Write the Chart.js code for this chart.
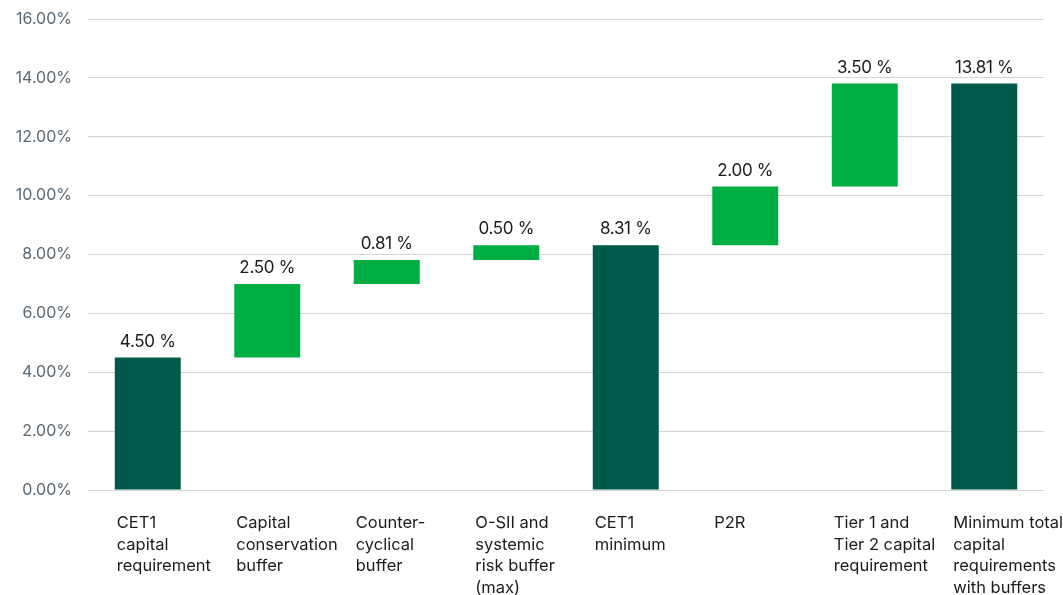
<!DOCTYPE html>
<html>
<head>
<meta charset="utf-8">
<script src="https://cdn.jsdelivr.net/npm/chart.js@4"></script>
<style>
  html, body { margin: 0; padding: 0; background: #fff; }
  #wrap { width: 1063px; height: 595px; }
</style>
</head>
<body>
<div id="wrap"><canvas id="capChart"></canvas></div>
<script>
// categories, one array of lines each
const categories = [
    ['CET1', 'capital', 'requirement'],
    ['Capital', 'conservation', 'buffer'],
    ['Counter-', 'cyclical', 'buffer'],
    ['O-SII and', 'systemic', 'risk buffer', '(max)'],
    ['CET1', 'minimum'],
    ['P2R'],
    ['Tier 1 and', 'Tier 2 capital', 'requirement'],
    ['Minimum total', 'capital', 'requirements', 'with buffers']
];
// bar start / end (percent)
const barStart = [0, 4.50, 7.00, 7.81, 0, 8.31, 10.31, 0];
const barEnd = [4.50, 7.00, 7.81, 8.31, 8.31, 10.31, 13.81, 13.81];
const valueLabels = ['4.50 %', '2.50 %', '0.81 %', '0.50 %', '8.31 %', '2.00 %', '3.50 %', '13.81 %'];
const isTotal = [true, false, false, false, true, false, false, true];

const DARK = '#005a4c';
const GREEN = '#00ad42';
const FONT = 'Inter, "Liberation Sans", sans-serif';

// value labels above bars + multi-line category labels under bars
const labelsPlugin = {
    id: 'labelsPlugin',
    afterDatasetsDraw(chart) {
        const ctx = chart.ctx;
        const meta = chart.getDatasetMeta(0);
        const yScale = chart.scales.y;
        ctx.save();
        ctx.font = '17px ' + FONT;
        ctx.letterSpacing = '-0.3px';
        ctx.fillStyle = '#1b1b1b';
        ctx.textAlign = 'center';
        ctx.textBaseline = 'middle';
        meta.data.forEach((bar, i) => {
            const top = yScale.getPixelForValue(barEnd[i]);
            ctx.fillText(valueLabels[i], bar.x, top - 16);
        });

        ctx.font = '16.5px ' + FONT;
        ctx.letterSpacing = '0px';
        ctx.textAlign = 'left';
        meta.data.forEach((bar, i) => {
            const left = bar.x - bar.width / 2 + 2;
            categories[i].forEach((line, j) => {
                ctx.fillText(line, left, chart.chartArea.bottom + 33 + j * 21.7);
            });
        });
        ctx.restore();
    }
};

new Chart(document.getElementById('capChart'), {
    type: 'bar',
    data: {
        labels: categories.map(c => c.join(' ')),
        datasets: [{
            data: barStart.map((s, i) => [s, barEnd[i]]),
            backgroundColor: isTotal.map(t => t ? DARK : GREEN),
            borderWidth: 0,
            categoryPercentage: 1,
            barPercentage: 0.552
        }]
    },
    options: {
        responsive: true,
        maintainAspectRatio: false,
        animation: false,
        layout: { padding: { top: 19, right: 19, left: 0, bottom: 0 } },
        plugins: {
            legend: { display: false },
            tooltip: { enabled: false }
        },
        scales: {
            x: {
                grid: { display: false },
                border: { display: false },
                ticks: { display: false },
                afterFit(scale) { scale.height = 105; }
            },
            y: {
                min: 0,
                max: 16,
                ticks: {
                    stepSize: 2,
                    padding: 16,
                    color: '#5b6770',
                    font: { family: FONT, size: 16 },
                    callback: v => v.toFixed(2) + '%'
                },
                grid: { color: '#d4d4d4', lineWidth: 1, drawTicks: false },
                border: { display: false },
                afterFit(scale) {
                    scale.width = 88;
                    scale.paddingTop = 0;
                    scale.paddingBottom = 0;
                }
            }
        }
    },
    plugins: [labelsPlugin]
});
</script>
</body>
</html>
